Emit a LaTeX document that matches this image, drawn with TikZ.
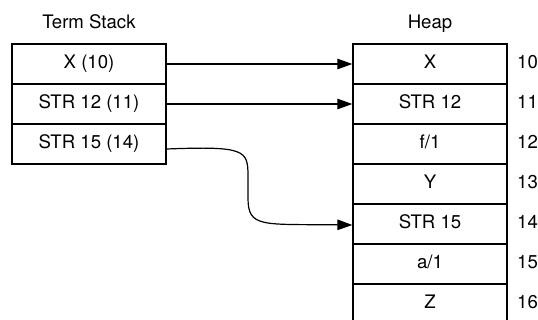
\documentclass[tikz,border=0pt]{standalone}
\usepackage{fontspec}
\setmainfont{TeX Gyre Heros}
\usetikzlibrary{arrows.meta, positioning}

\begin{document}
\begin{tikzpicture}[x=1pt, y=-1pt, every node/.style={font=\fontsize{18.6}{22}\selectfont}]

\tikzset{cell/.style = {shape=rectangle,draw,line width=1.3pt,minimum width=154pt,minimum height=40pt,text height=1.15em,text depth=0.2em}}
\tikzset{edge/.style = {-{Triangle[length=15pt,width=10.5pt]},line width=1.2pt}}
\tikzset{title/.style = {anchor=base}}
\tikzset{index/.style = {anchor=west,inner sep=0pt,text height=1.15em,text depth=0.2em}}
\useasboundingbox (0,0) rectangle (538,320);
% term stack
\node[title] (stacktitle) at (89,29) {Term Stack};
\node[cell] (s1) at (89,64) {X (10)};
\node[cell] (s2) at (89,104) {STR 12 (11)};
\node[cell] (s3) at (89,144) {STR 15 (14)};
% heap
\node[title] (heaptitle) at (430,29) {Heap};
\node[cell] (h10) at (430,64) {X};
\node[cell] (h11) at (430,104) {STR 12};
\node[cell] (h12) at (430,144) {f/1};
\node[cell] (h13) at (430,184) {Y};
\node[cell] (h14) at (430,224) {STR 15};
\node[cell] (h15) at (430,264) {a/1};
\node[cell] (h16) at (430,304) {Z};
% addresses
\node[index] (a10) at (517,64) {10};
\node[index] (a11) at (517,104) {11};
\node[index] (a12) at (517,144) {12};
\node[index] (a13) at (517,184) {13};
\node[index] (a14) at (517,224) {14};
\node[index] (a15) at (517,264) {15};
\node[index] (a16) at (517,304) {16};
%edges
\draw [edge] (s1.east) -- (h10.west);
\draw [edge] (s2.east) -- (h11.west);
\draw [edge] ([yshift=-5pt]s3.east) .. controls (245,146) and (248,150) .. (248,176) -- (248,198) .. controls (248,228) and (262,224) .. ([yshift=-1pt]h14.west);
\end{tikzpicture}
\end{document}
